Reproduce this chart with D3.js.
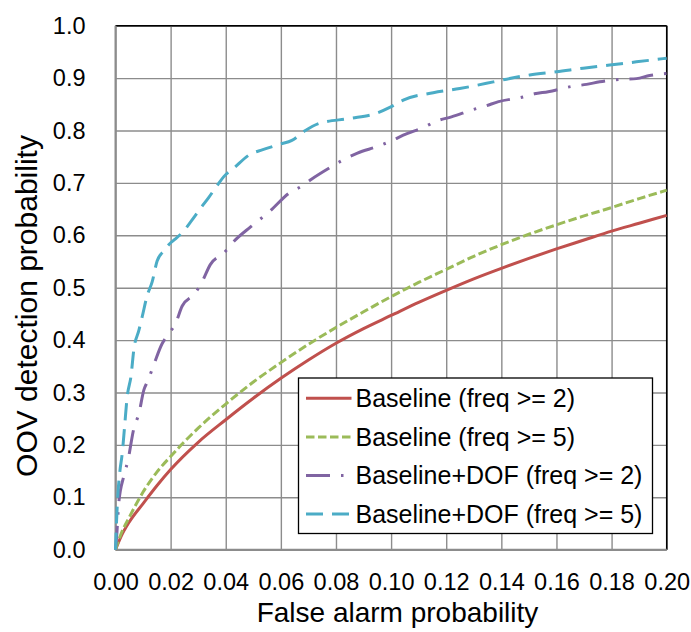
<!DOCTYPE html>
<html>
<head>
<meta charset="utf-8">
<script src="https://cdn.jsdelivr.net/npm/d3@7"></script>
<style>
    body { margin: 0; background: #fff; }
</style>
</head>
<body>
<svg id="chart" width="691" height="632"></svg>
<script>
//OOV detection vs false alarm curves

//tick values for the axes
const xTicks = [0, 0.02, 0.04, 0.06, 0.08, 0.10, 0.12, 0.14, 0.16, 0.18, 0.20];
const yTicks = [0, 0.1, 0.2, 0.3, 0.4, 0.5, 0.6, 0.7, 0.8, 0.9, 1.0];

//series names for the legend
const seriesNames = [
    'Baseline (freq >= 2)',
    'Baseline (freq >= 5)',
    'Baseline+DOF (freq >= 2)',
    'Baseline+DOF (freq >= 5)'
];

//Baseline (freq >= 2) and (freq >= 5) share the same false alarm points
const baseX = [0, 0.002, 0.005, 0.01, 0.015, 0.02, 0.03, 0.04, 0.05, 0.06, 0.07, 0.08,
    0.09, 0.10, 0.11, 0.12, 0.13, 0.14, 0.15, 0.16, 0.17, 0.18, 0.19, 0.20];
const base2Y = [0, 0.025, 0.053, 0.088, 0.122, 0.153, 0.205, 0.248, 0.289, 0.327, 0.362, 0.394,
    0.422, 0.447, 0.472, 0.495, 0.517, 0.537, 0.556, 0.574, 0.591, 0.608, 0.623, 0.638];
const base5Y = [0, 0.03, 0.062, 0.11, 0.148, 0.178, 0.232, 0.278, 0.32, 0.357, 0.392, 0.424,
    0.454, 0.483, 0.51, 0.535, 0.56, 0.582, 0.602, 0.62, 0.637, 0.653, 0.67, 0.686];

//Baseline+DOF (freq >= 2)
const dof2X = [0, 0.0004, 0.0012, 0.003, 0.0045, 0.0066, 0.0085, 0.0103, 0.0117, 0.0139, 0.0169,
    0.019, 0.0218, 0.0242, 0.0288, 0.0314, 0.0344, 0.0395, 0.0427, 0.049, 0.0528, 0.056,
    0.0634, 0.0673, 0.0711, 0.0784, 0.0826, 0.0878, 0.0953, 0.1, 0.1044, 0.1122, 0.1165,
    0.1219, 0.1298, 0.1344, 0.139, 0.1479, 0.152, 0.157, 0.1654, 0.1709, 0.1757, 0.1842,
    0.189, 0.1938, 0.20];
const dof2Y = [0, 0.024, 0.09, 0.14, 0.17, 0.23, 0.26, 0.305, 0.322, 0.353, 0.393,
    0.41, 0.432, 0.465, 0.489, 0.511, 0.544, 0.567, 0.587, 0.616, 0.632, 0.646,
    0.682, 0.693, 0.707, 0.731, 0.744, 0.757, 0.77, 0.78, 0.791, 0.807, 0.818,
    0.826, 0.84, 0.847, 0.855, 0.864, 0.87, 0.874, 0.884, 0.888, 0.893, 0.898,
    0.899, 0.905, 0.909];

//Baseline+DOF (freq >= 5)
const dof5X = [0, 0.0004, 0.0008, 0.0016, 0.0024, 0.0033, 0.0042, 0.0057, 0.0066, 0.0085,
    0.0097, 0.0115, 0.0133, 0.0151, 0.0175, 0.0195, 0.0215, 0.0242, 0.0272, 0.0308, 0.0338,
    0.0369, 0.0393, 0.0429, 0.049, 0.0532, 0.0598, 0.064, 0.0689, 0.0742, 0.085, 0.0947,
    0.0999, 0.1044, 0.1153, 0.1249, 0.1346, 0.14, 0.1503, 0.16, 0.1697, 0.1793, 0.189, 0.20];
const dof5Y = [0, 0.057, 0.10, 0.15, 0.182, 0.235, 0.29, 0.334, 0.38, 0.419,
    0.445, 0.485, 0.511, 0.551, 0.57, 0.583, 0.592, 0.605, 0.625, 0.651, 0.672,
    0.695, 0.712, 0.728, 0.755, 0.763, 0.774, 0.781, 0.80, 0.814, 0.823, 0.833,
    0.845, 0.858, 0.872, 0.88, 0.89, 0.896, 0.906, 0.912, 0.919, 0.925, 0.931, 0.938];

const colours = ['#C0504D', '#9BBB59', '#8064A2', '#4BACC6'];
const dashes = ['none', '8.5,3.5', '24,11,2.5,11', '17,9'];

//no serif face is installed, so use the Arial-metric sans and size it to the reference widths
const font = "'Liberation Sans', Arial, sans-serif";

let series = [
    { x: baseX, y: base2Y },
    { x: baseX, y: base5Y },
    { x: dof2X, y: dof2Y },
    { x: dof5X, y: dof5Y }
].map((s, i) => ({
    name: seriesNames[i],
    colour: colours[i],
    dash: dashes[i],
    points: s.x.map((v, j) => ({ fa: v, det: s.y[j] }))
}));

let svg = d3.select('#chart')
    .style('font-family', font);

//plot area in pixels
let margin = { top: 25.7, left: 115.5, right: 24.3, bottom: 82.3 };
let w = 691 - margin.left - margin.right;
let h = 632 - margin.top - margin.bottom;

let xScale = d3.scaleLinear().domain([0, 0.2]).range([0, w]);
let yScale = d3.scaleLinear().domain([0, 1]).range([h, 0]);

let plot = svg.append('g')
    .attr('transform', `translate(${margin.left},${margin.top})`);

//grid lines
plot.append('g')
    .attr('class', 'xgrid')
    .call(d3.axisBottom(xScale).tickValues(xTicks).tickSize(h).tickFormat(''))
    .call(g => g.select('.domain').remove())
    .selectAll('line')
    .attr('stroke', '#8c8c8c')
    .attr('stroke-width', 1.4);

plot.append('g')
    .attr('class', 'ygrid')
    .call(d3.axisLeft(yScale).tickValues(yTicks).tickSize(-w).tickFormat(''))
    .call(g => g.select('.domain').remove())
    .selectAll('line')
    .attr('stroke', '#8c8c8c')
    .attr('stroke-width', 1.4);

//top and right border is black, left and bottom axis lines grey
plot.append('line')
    .attr('x1', 0).attr('x2', w).attr('y1', 0).attr('y2', 0)
    .attr('stroke', '#000').attr('stroke-width', 1.5);
plot.append('line')
    .attr('x1', w).attr('x2', w).attr('y1', 0).attr('y2', h)
    .attr('stroke', '#000').attr('stroke-width', 1.5);
plot.append('line')
    .attr('x1', 0).attr('x2', 0).attr('y1', 0).attr('y2', h)
    .attr('stroke', '#8c8c8c').attr('stroke-width', 2);
plot.append('line')
    .attr('x1', 0).attr('x2', w).attr('y1', h).attr('y2', h)
    .attr('stroke', '#8c8c8c').attr('stroke-width', 2);

//tick labels
plot.append('g')
    .attr('class', 'xaxis')
    .attr('transform', `translate(0,${h})`)
    .call(d3.axisBottom(xScale).tickValues(xTicks).tickSize(0).tickPadding(24).tickFormat(d3.format('.2f')))
    .call(g => g.select('.domain').remove())
    .attr('font-family', font)
    .selectAll('text')
    .attr('fill', '#000')
    .attr('font-size', '23.5px');

plot.append('g')
    .attr('class', 'yaxis')
    .call(d3.axisLeft(yScale).tickValues(yTicks).tickSize(0).tickPadding(30).tickFormat(d3.format('.1f')))
    .call(g => g.select('.domain').remove())
    .attr('font-family', font)
    .selectAll('text')
    .attr('fill', '#000')
    .attr('font-size', '23.5px');

//draw the curves
let lineFun = d3.line()
    .x(d => xScale(d.fa))
    .y(d => yScale(d.det))
    .curve(d3.curveMonotoneX);

plot.selectAll('path.curve')
    .data(series)
    .enter()
    .append('path')
    .attr('class', 'curve')
    .attr('d', d => lineFun(d.points))
    .attr('fill', 'none')
    .attr('stroke', d => d.colour)
    .attr('stroke-width', 3)
    .attr('stroke-dasharray', d => d.dash);

//axis titles
svg.append('text')
    .attr('x', 397.5)
    .attr('y', 621.5)
    .attr('text-anchor', 'middle')
    .attr('font-family', font)
    .attr('font-size', '28px')
    .text('False alarm probability');

svg.append('text')
    .attr('transform', 'translate(37,306) rotate(-90)')
    .attr('text-anchor', 'middle')
    .attr('font-family', font)
    .attr('font-size', '30px')
    .text('OOV detection probability');

//legend box
let legend = svg.append('g')
    .attr('transform', 'translate(298.5,378)');

legend.append('rect')
    .attr('width', 354)
    .attr('height', 155.5)
    .attr('fill', '#fff')
    .attr('stroke', '#000')
    .attr('stroke-width', 1.3);

let rows = legend.selectAll('g.row')
    .data(series)
    .enter()
    .append('g')
    .attr('class', 'row')
    .attr('transform', (d, i) => `translate(0,${20.3 + i * 38.6})`);

rows.append('line')
    .attr('x1', 7.5).attr('x2', 53)
    .attr('stroke', d => d.colour)
    .attr('stroke-width', 3)
    .attr('stroke-dasharray', d => d.dash);

rows.append('text')
    .attr('x', 57)
    .attr('dy', '0.35em')
    .attr('font-family', font)
    .attr('font-size', '25px')
    .text(d => d.name);
</script>
</body>
</html>
